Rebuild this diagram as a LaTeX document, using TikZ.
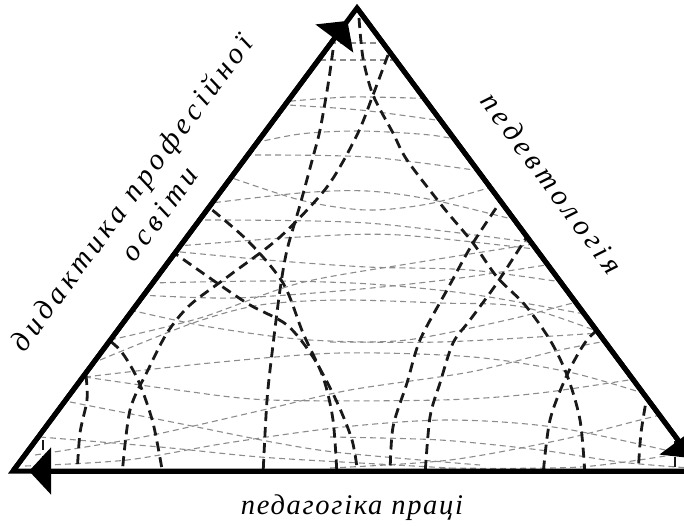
\documentclass[tikz,border=0pt]{standalone}
\usepackage{fontspec}
\setmainfont{Liberation Serif}
\newfontfamily\labfont[LetterSpace=16]{Liberation Serif}
\newfontfamily\labfontwide[LetterSpace=6]{Liberation Serif}
\usetikzlibrary{arrows.meta}
\begin{document}
\begin{tikzpicture}[x=1pt,y=-1pt,
  gline/.style={draw=black!45, line width=1.1pt, dash pattern=on 6pt off 4pt},
  dline/.style={draw=black!90, line width=2.8pt, dash pattern=on 10pt off 6pt},
  side/.style={line width=5pt, line join=miter},
  sidearrow/.style={line width=5pt, -{Triangle[length=22pt,width=46pt]}, shorten >=16pt},
  lab/.style={font=\labfont\itshape\fontsize{29.5}{35}\selectfont, inner sep=0pt},
  labw/.style={font=\labfontwide\itshape\fontsize{28.5}{35}\selectfont, inner sep=0pt}]
\useasboundingbox (0,0) rectangle (684,525);
\clip (0,0) rectangle (684,525);
\coordinate (A) at (357,8);
\coordinate (L) at (13,471);
\coordinate (R) at (701,471);
\begin{scope}
\clip (L) -- (A) -- (R) -- cycle;
% grey mesh
\draw[gline] (320,43) -- (400,43);
\draw[gline] (310,60) -- (405,60);
\draw[gline] plot[smooth] coordinates {(270,103) (350,97) (440,99)};
\draw[gline] plot[smooth] coordinates {(270,104) (360,110) (450,122)};
\draw[gline] plot[smooth] coordinates {(245,145) (300,134) (360,131) (430,135) (475,143)};
\draw[gline] plot[smooth] coordinates {(235,155) (367,157) (495,173)};
\draw[gline] plot[smooth] coordinates {(215,172) (300,200) (367,210) (433,203) (515,180)};
\draw[gline] plot[smooth] coordinates {(195,205) (300,193) (367,191) (433,200) (535,225)};
\draw[gline] plot[smooth] coordinates {(185,220) (367,223) (550,245)};
\draw[gline] plot[smooth] coordinates {(165,247) (300,237) (400,235) (560,252)};
\draw[gline] plot[smooth] coordinates {(160,250) (267,260) (367,267) (470,270) (575,284)};
\draw[gline] plot[smooth] coordinates {(150,283) (270,281) (370,284) (470,294) (590,315)};
\draw[gline] plot[smooth] coordinates {(140,295) (233,298) (350,290) (460,278) (590,258)};
\draw[gline] plot[smooth] coordinates {(110,340) (200,318) (300,283) (420,262) (540,243)};
\draw[gline] plot[smooth] coordinates {(130,310) (210,327) (310,340) (440,342) (600,333)};
\draw[gline] plot[smooth] coordinates {(100,360) (193,323) (260,305) (340,300) (440,303) (523,307) (610,336)};
\draw[gline] plot[smooth] coordinates {(85,377) (177,390) (270,400) (440,400) (540,393) (660,375)};
\draw[gline] plot[smooth] coordinates {(85,377) (210,363) (340,353) (473,357) (573,373) (665,400)};
\draw[gline] plot[smooth] coordinates {(40,437) (160,447) (260,457) (360,463) (450,468)};
\draw[gline] plot[smooth] coordinates {(35,455) (143,437) (263,410) (350,390) (470,372) (560,350) (640,335)};
\draw[gline] plot[smooth] coordinates {(25,466) (127,460) (227,443) (343,427) (450,420) (560,428) (700,458)};
\draw[gline] plot[smooth] coordinates {(60,400) (177,423) (277,443) (343,453) (480,465)};
\draw[gline] plot[smooth] coordinates {(330,342) (407,340) (507,320) (573,303) (630,290)};
\draw[gline] plot[smooth] coordinates {(330,437) (440,440) (540,450) (620,462) (690,468)};
\draw[gline] plot[smooth] coordinates {(330,468) (450,460) (560,440) (640,420) (700,405)};
\draw[gline] plot[smooth] coordinates {(440,468) (580,467) (690,452)};
% dark meridians
\draw[dline] plot[smooth] coordinates {(333,50) (328,85) (320,130) (313,157) (300,205) (287,250) (280,290) (273,345) (267,400) (263,475)};
\draw[dline] plot[smooth] coordinates {(388,55) (373,95) (357,135) (327,187) (280,237) (230,275) (190,305) (167,333) (148,370) (130,410) (122,475)};
\draw[dline] plot[smooth] coordinates {(359,18) (363,58) (373,95) (393,133) (407,160) (443,207) (473,243) (497,277) (525,305) (550,340) (567,375) (580,420) (585,475)};
\draw[dline] plot[smooth] coordinates {(200,200) (247,240) (283,283) (303,333) (323,377) (333,420) (337,475)};
\draw[dline] plot[smooth] coordinates {(170,250) (217,283) (250,305) (287,325) (313,357) (336,400) (352,440) (358,475)};
\draw[dline] plot[smooth] coordinates {(505,195) (473,243) (447,290) (420,340) (407,383) (393,427) (390,475)};
\draw[dline] plot[smooth] coordinates {(530,232) (497,283) (470,320) (453,343) (440,383) (430,417) (425,475)};
\draw[dline] plot[smooth] coordinates {(610,320) (587,340) (567,375) (550,420) (543,475)};
\draw[dline] plot[smooth] coordinates {(98,332) (120,350) (138,380) (153,423) (163,475)};
\draw[dline] plot[smooth] coordinates {(86,375) (87,400) (80,433) (77,475)};
\draw[dline] (43,440) -- (43,475);
\draw[dline] plot[smooth] coordinates {(648,390) (641,433) (638,475)};
\draw[dline] (675,425) -- (675,475);
\end{scope}
% triangle
\draw[side] (L) -- (A) -- (R) -- cycle;
\draw[sidearrow] (L) -- (A);
\draw[sidearrow] (A) -- (R);
\draw[sidearrow] (R) -- (L);
% labels
\node[lab, rotate=53.4, align=center] (lt) at (145,203) {дидактика професійної\\освіти};
\node[lab, rotate=-53.4] (rt) at (552,183) {педевтологія};
\node[labw] (bt) at (352,508) {педагогіка праці};
\end{tikzpicture}
\end{document}
